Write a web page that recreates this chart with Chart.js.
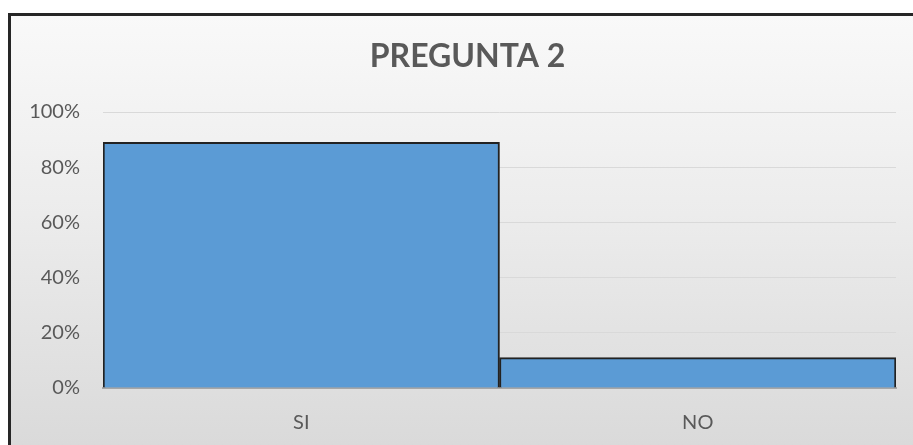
<!DOCTYPE html>
<html>
<head>
<meta charset="utf-8">
<script src="https://cdn.jsdelivr.net/npm/chart.js@4"></script>
<style>
  html, body { margin: 0; padding: 0; width: 913px; height: 445px; overflow: hidden; background: #ffffff; }
  #frame { position: absolute; left: 8px; top: 13px; width: 910px; height: 440px;
           border-left: 3px solid #262626; border-top: 3px solid #262626;
           background: linear-gradient(to bottom, #f9f9f9 0%, #ececec 45%, #d9d9d9 100%); }
  #wrap { position: absolute; left: 0; top: 0; width: 902px; height: 429px; }
</style>
</head>
<body>
<div id="frame"><div id="wrap"><canvas id="c"></canvas></div></div>
<script>
const categories = ["SI", "NO"];
const values = [89, 11];
const titleText = "PREGUNTA 2";
const yTicks = [0, 20, 40, 60, 80, 100];

const FONT = "Lato, 'Open Sans', sans-serif";

const titlePlugin = {
  id: 'offsetTitle',
  afterDraw(chart) {
    const ctx = chart.ctx;
    ctx.save();
    ctx.font = "bold 32px " + FONT;
    ctx.fillStyle = '#595959';
    ctx.textAlign = 'center';
    ctx.textBaseline = 'middle';
    ctx.fillText(titleText, (chart.chartArea.right) / 2 + 14, 41);
    ctx.restore();
  }
};

new Chart(document.getElementById('c'), {
  type: 'bar',
  data: {
    labels: categories,
    datasets: [{
      data: values,
      backgroundColor: '#5B9BD5',
      borderColor: '#222222',
      borderWidth: 2,
      barPercentage: 1.0,
      categoryPercentage: 1.0,
      borderSkipped: 'bottom'
    }]
  },
  plugins: [titlePlugin],
  options: {
    responsive: true,
    maintainAspectRatio: false,
    animation: false,
    layout: { padding: { left: 0, right: 17, top: 96, bottom: 0 } },
    plugins: {
      legend: { display: false },
      tooltip: { enabled: false },
      title: { display: false }
    },
    scales: {
      x: {
        afterFit: (s) => { s.height = 57; },
        grid: { display: false, drawTicks: false },
        border: { display: true, color: '#a6a6a6', width: 2 },
        ticks: { color: '#595959', font: { family: FONT, size: 20 }, padding: 23 }
      },
      y: {
        min: 0, max: 100,
        afterBuildTicks: (s) => { s.ticks = yTicks.map(v => ({ value: v })); },
        afterFit: (s) => { s.width = 92; },
        grid: { color: '#d9d9d9', lineWidth: 1, drawTicks: false },
        border: { display: false },
        ticks: { color: '#595959', font: { family: FONT, size: 20 }, padding: 23,
                 callback: (v) => v + '%' }
      }
    }
  }
});
</script>
</body>
</html>
